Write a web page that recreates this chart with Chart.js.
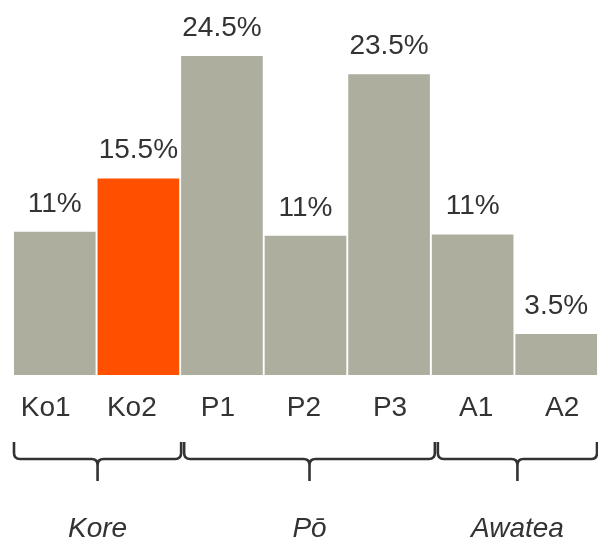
<!DOCTYPE html>
<html>
<head>
<meta charset="utf-8">
<script src="https://cdn.jsdelivr.net/npm/chart.js@4"></script>
<style>
	html, body { margin: 0; padding: 0; background: #fff; }
	#wrap { width: 598px; height: 539px; }
</style>
</head>
<body>
<div id="wrap"><canvas id="cnvs"></canvas></div>
<script>
// data
var categories = ['Ko1', 'Ko2', 'P1', 'P2', 'P3', 'A1', 'A2'];
var values = [11.0, 15.1, 24.5, 10.7, 23.1, 10.8, 3.15];
var valueLabels = ['11%', '15.5%', '24.5%', '11%', '23.5%', '11%', '3.5%'];
var groupNames = ['Kore', 'Pō', 'Awatea'];
var groupFirst = [0, 2, 5];
var groupLast = [1, 4, 6];

var grey = '#adae9e';
var highlight = '#ff5000';
var textColor = '#333333';
var fontFamily = '"Liberation Sans", Arial, Helvetica, sans-serif';

var barColors = categories.map((c, i) => i == 1 ? highlight : grey);

// value labels above the bars
var valueLabelPlugin = {
	id: 'valueLabels',
	afterDatasetsDraw(chart) {
		var ctx = chart.ctx;
		var meta = chart.getDatasetMeta(0);
		ctx.save();
		ctx.font = '28px ' + fontFamily;
		ctx.fillStyle = textColor;
		ctx.textAlign = 'center';
		ctx.textBaseline = 'alphabetic';
		meta.data.forEach((bar, i) => {
			ctx.fillText(valueLabels[i], bar.x, bar.y - 20);
		});
		ctx.restore();
	}
};

// curly braces under the tick labels, with the group names
var bracePlugin = {
	id: 'braces',
	afterDraw(chart, args, opts) {
		var ctx = chart.ctx;
		var x = chart.scales.x;
		var top = 442, mid = 459, tip = 481, r = 6;
		ctx.save();
		ctx.strokeStyle = textColor;
		ctx.lineWidth = 2.6;
		ctx.lineCap = 'butt';
		ctx.lineJoin = 'round';
		groupNames.forEach((name, g) => {
			var x0 = x.getPixelForValue(groupFirst[g] - 0.5) + opts.insetLeft[g];
			var x1 = x.getPixelForValue(groupLast[g] + 0.5) + opts.insetRight[g];
			var xm = (x0 + x1) / 2;
			ctx.beginPath();
			ctx.moveTo(x0, top);
			ctx.lineTo(x0, mid - r);
			ctx.quadraticCurveTo(x0, mid, x0 + r, mid);
			ctx.lineTo(xm - r, mid);
			ctx.quadraticCurveTo(xm, mid, xm, mid + r);
			ctx.lineTo(xm, tip);
			ctx.moveTo(x1, top);
			ctx.lineTo(x1, mid - r);
			ctx.quadraticCurveTo(x1, mid, x1 - r, mid);
			ctx.lineTo(xm + r, mid);
			ctx.quadraticCurveTo(xm, mid, xm, mid + r);
			ctx.stroke();

			ctx.font = 'italic 28px ' + fontFamily;
			ctx.fillStyle = textColor;
			ctx.textAlign = 'center';
			ctx.textBaseline = 'alphabetic';
			ctx.fillText(name, xm, 537);
		});
		ctx.restore();
	}
};

var ctx = document.getElementById('cnvs').getContext('2d');
var chart = new Chart(ctx, {
	type: 'bar',
	data: {
		labels: categories,
		datasets: [{
			data: values,
			backgroundColor: barColors,
			borderWidth: 0,
			barPercentage: 0.977,
			categoryPercentage: 1
		}]
	},
	options: {
		responsive: true,
		maintainAspectRatio: false,
		animation: false,
		layout: { padding: { left: 13, right: 0, top: 0, bottom: 0 } },
		plugins: {
			legend: { display: false },
			tooltip: { enabled: false },
			braces: {
				insetLeft: [1, 4, 7],
				insetRight: [1, 4, -1]
			}
		},
		scales: {
			x: { display: false },
			// tick labels sit on a slightly wider grid than the bars
			xl: {
				type: 'linear',
				position: 'bottom',
				bounds: 'data',
				offset: false,
				min: -0.38,
				max: 6.416,
				grid: { display: false, drawTicks: false, offset: false },
				border: { display: false },
				afterBuildTicks: (scale) => {
					scale.ticks = categories.map((c, i) => ({ value: i }));
				},
				afterFit: (scale) => { scale.height = 164; },
				ticks: {
					autoSkip: false,
					maxRotation: 0,
					padding: 16,
					color: textColor,
					font: { family: fontFamily, size: 28 },
					callback: (v) => categories[v]
				}
			},
			y: {
				display: false,
				min: 0,
				max: 28.8
			}
		}
	},
	plugins: [valueLabelPlugin, bracePlugin]
});
</script>
</body>
</html>
